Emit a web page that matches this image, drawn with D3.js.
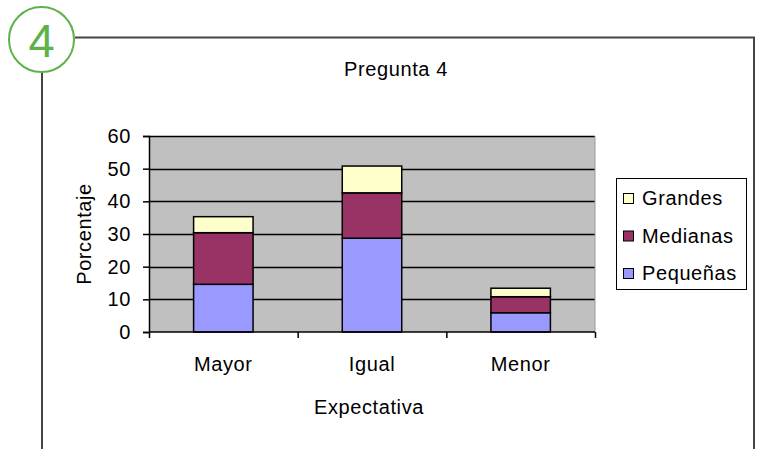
<!DOCTYPE html>
<html>
<head>
<meta charset="utf-8">
<script src="https://cdn.jsdelivr.net/npm/d3@7"></script>
<style>
  html, body { margin: 0; padding: 0; background: #fff; }
  svg text { font-family: "Liberation Sans", Arial, sans-serif; fill: #000; letter-spacing: 0.6px; }
</style>
</head>
<body>
<svg id="chart" width="761" height="449"></svg>
<script>
// ── DATA ───────────────────────────────────────────────────────────────────
const categories = ['Mayor', 'Igual', 'Menor'];
const seriesNames = ['Pequeñas', 'Medianas', 'Grandes'];
const pequenas = [14.6, 28.7, 5.9];
const medianas = [15.8, 13.9, 4.9];
const grandes  = [4.9, 8.2, 2.6];
const yTicks   = [0, 10, 20, 30, 40, 50, 60];

const COLORS = { 'Pequeñas': '#9999ff', 'Medianas': '#993366', 'Grandes': '#ffffcc' };

// ── LAYOUT ─────────────────────────────────────────────────────────────────
const svg = d3.select('#chart');
const plot = { left: 149, right: 595, top: 136, bottom: 332 };
const FONT = 20;

// frame + number badge
const green = '#5db24a';
svg.append('path')
  .attr('d', 'M75,37.5 H754 V449 M42,72 V449')
  .attr('fill', 'none').attr('stroke', '#444').attr('stroke-width', 2);
svg.append('circle')
  .attr('cx', 41.5).attr('cy', 39.5).attr('r', 32.5)
  .attr('fill', '#fff').attr('stroke', green).attr('stroke-width', 2);
svg.append('text')
  .attr('x', 41.5).attr('y', 57).attr('text-anchor', 'middle')
  .style('font-size', '47px').style('letter-spacing', '0').style('fill', green).text('4');

// ── SCALES ─────────────────────────────────────────────────────────────────
const x = d3.scaleBand().domain(categories).range([plot.left, plot.right]).paddingInner(0.6).paddingOuter(0.3);
const xEdge = d3.scaleLinear().domain([0, categories.length]).range([plot.left, plot.right]);
const y = d3.scaleLinear().domain([0, 60]).range([plot.bottom, plot.top]);

const rows = categories.map((c, i) => ({ cat: c, 'Pequeñas': pequenas[i], 'Medianas': medianas[i], 'Grandes': grandes[i] }));
const stacked = d3.stack().keys(seriesNames)(rows);

// plot background
svg.append('rect')
  .attr('x', plot.left).attr('y', plot.top)
  .attr('width', plot.right - plot.left).attr('height', plot.bottom - plot.top)
  .attr('fill', '#c0c0c0');

// gridlines
svg.append('g')
  .selectAll('line').data(yTicks.filter(t => t > 0)).join('line')
  .attr('x1', plot.left).attr('x2', plot.right)
  .attr('y1', d => Math.round(y(d)) + 0.5).attr('y2', d => Math.round(y(d)) + 0.5)
  .attr('stroke', '#000').attr('stroke-width', 1.5);

// right edge of plot (light gray)
svg.append('line')
  .attr('x1', plot.right).attr('x2', plot.right).attr('y1', plot.top).attr('y2', plot.bottom)
  .attr('stroke', '#999').attr('stroke-width', 1);

// bars
svg.append('g')
  .selectAll('g').data(stacked).join('g')
  .attr('fill', d => COLORS[d.key])
  .selectAll('rect').data(d => d).join('rect')
  .attr('x', d => x(d.data.cat))
  .attr('width', x.bandwidth())
  .attr('y', d => y(d[1]))
  .attr('height', d => y(d[0]) - y(d[1]))
  .attr('stroke', '#000').attr('stroke-width', 1.5);

// ── AXES ───────────────────────────────────────────────────────────────────
const yAxis = svg.append('g')
  .attr('transform', `translate(${plot.left},0)`)
  .call(d3.axisLeft(y).tickValues(yTicks).tickSize(6).tickPadding(12));
yAxis.select('.domain').attr('stroke', '#000').attr('stroke-width', 1.5);
yAxis.selectAll('.tick line').attr('stroke', '#000').attr('stroke-width', 1.5);
yAxis.selectAll('.tick text').style('font-size', FONT + 'px').style('font-family', '"Liberation Sans", Arial, sans-serif');

const xAxis = svg.append('g')
  .attr('transform', `translate(0,${plot.bottom})`)
  .call(d3.axisBottom(xEdge).tickValues(d3.range(categories.length + 1)).tickSize(6).tickFormat(''));
xAxis.select('.domain').attr('stroke', '#000').attr('stroke-width', 1.5).attr('d', `M${plot.left},0H${plot.right}`);
xAxis.selectAll('.tick line').attr('stroke', '#000').attr('stroke-width', 1.5);

svg.append('g')
  .selectAll('text').data(categories).join('text')
  .attr('x', d => x(d) + x.bandwidth() / 2)
  .attr('y', 371)
  .attr('text-anchor', 'middle')
  .style('font-size', FONT + 'px')
  .text(d => d);

// titles
svg.append('text')
  .attr('x', 396).attr('y', 76).attr('text-anchor', 'middle')
  .style('font-size', FONT + 'px').text('Pregunta 4');
svg.append('text')
  .attr('x', 369).attr('y', 414).attr('text-anchor', 'middle')
  .style('font-size', FONT + 'px').text('Expectativa');
svg.append('text')
  .attr('transform', 'translate(91,234) rotate(-90)')
  .attr('text-anchor', 'middle')
  .style('font-size', FONT + 'px').text('Porcentaje');

// ── LEGEND ─────────────────────────────────────────────────────────────────
const legend = svg.append('g');
legend.append('rect')
  .attr('x', 616.5).attr('y', 178.5).attr('width', 130).attr('height', 111)
  .attr('fill', '#fff').attr('stroke', '#000').attr('stroke-width', 1);
const legendKeys = seriesNames.slice().reverse();
const ly = d3.scalePoint().domain(legendKeys).range([198, 273]);
const item = legend.selectAll('g.item').data(legendKeys).join('g')
  .attr('class', 'item')
  .attr('transform', d => `translate(0,${ly(d)})`);
item.append('rect')
  .attr('x', 623.5).attr('y', -4.5).attr('width', 10).attr('height', 10)
  .attr('fill', d => COLORS[d]).attr('stroke', '#000').attr('stroke-width', 1);
item.append('text')
  .attr('x', 642).attr('y', 7)
  .style('font-size', FONT + 'px')
  .text(d => d);
</script>
</body>
</html>
